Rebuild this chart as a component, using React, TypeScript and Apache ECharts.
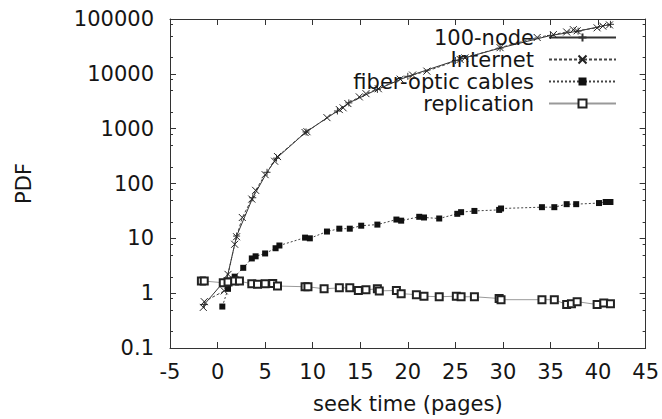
import React, { useEffect, useRef } from "react";
import * as echarts from "echarts";

const seriesNames = ["100-node", "Internet", "fiber-optic cables", "replication"];

const xTicks = [-5, 0, 5, 10, 15, 20, 25, 30, 35, 40, 45];
const yTickLabels = ["0.1", "1", "10", "100", "1000", "10000", "100000"];
const yDecades = [0.1, 1, 10, 100, 1000, 10000];
const yMinorFactors = [2, 5, 8];

const node100Data: [number, number][] = [
  [-1.4, 0.62], [1.0, 1.9], [2.0, 11], [3.7, 55], [5.2, 160], [6.2, 290], [9.3, 870],
  [12.6, 2100], [13.8, 2950], [16.8, 5200], [20.0, 9000], [25.0, 17500], [29.7, 29500],
  [35.0, 50000], [37.9, 60000], [41.3, 80000],
];

const internetData: [number, number][] = [
  [-1.5, 0.55], [-1.4, 0.7], [0.7, 1.1], [1.1, 2.2], [1.8, 7.8], [2.0, 10.7], [2.6, 24],
  [3.6, 52], [4.0, 75], [5.0, 145], [6.0, 255], [6.3, 310], [9.2, 850], [9.4, 880],
  [11.5, 1590], [12.8, 2230], [13.2, 2400], [13.7, 2870], [14.9, 3800], [15.6, 4350],
  [16.9, 5350], [19.2, 8000], [20.5, 9500], [22.0, 11200], [25.5, 18300], [26.0, 19500],
  [29.7, 30000], [33.6, 46000], [35.3, 52000], [36.7, 58000], [37.4, 64000], [37.8, 61000],
  [39.9, 69000], [40.5, 74000], [41.2, 78000],
];

const fiberData: [number, number][] = [
  [0.5, 0.57], [1.1, 1.2], [1.8, 2.0], [2.7, 2.9], [3.6, 4.3], [4.0, 4.7], [5.0, 5.3],
  [6.1, 6.6], [6.5, 7.4], [9.2, 10.3], [9.7, 10], [11.5, 13.3], [12.8, 15], [13.9, 15],
  [15.1, 17], [16.8, 17.8], [18.8, 22], [19.3, 21], [21.2, 24.7], [21.7, 24], [23.3, 23],
  [25.2, 28], [25.6, 30], [27.0, 31.6], [29.6, 33], [29.8, 35], [34.1, 37], [35.4, 37],
  [36.7, 42], [37.7, 42], [40.1, 44], [40.8, 46], [41.3, 46],
];

const replicationData: [number, number][] = [
  [-1.7, 1.66], [-1.4, 1.66], [0.6, 1.55], [1.1, 1.6], [1.8, 1.66], [2.3, 1.66], [3.6, 1.48],
  [4.2, 1.45], [5.0, 1.48], [5.8, 1.5], [6.3, 1.35], [9.2, 1.31], [9.5, 1.31], [11.2, 1.2],
  [12.8, 1.25], [13.9, 1.25], [14.8, 1.12], [15.6, 1.15], [16.8, 1.2], [17.0, 1.1],
  [18.8, 1.12], [19.3, 0.98], [20.9, 0.94], [21.7, 0.88], [23.3, 0.86], [25.1, 0.88],
  [25.6, 0.86], [27.0, 0.86], [29.6, 0.8], [29.8, 0.76], [34.1, 0.76], [35.4, 0.76],
  [36.7, 0.62], [37.2, 0.64], [37.8, 0.7], [39.9, 0.62], [40.6, 0.66], [41.3, 0.64],
];

const FONT = "DejaVu Sans";
const TEXT = "#151515";
const AXIS = "#333";

export default function App() {
  const ref = useRef<HTMLDivElement>(null);
  useEffect(() => {
    if (!ref.current) return;
    const chart = echarts.init(ref.current, null, { renderer: "svg" });
    const fmtY = (v: number) => {
      const i = Math.round(Math.log10(v)) + 1;
      return yTickLabels[i] ?? String(v);
    };
    const axisLine = { show: true, onZero: false, lineStyle: { color: AXIS, width: 1 } };
    const tick = { show: true, inside: true, length: 6, lineStyle: { color: AXIS } };
    const xBase = {
      type: "value" as const,
      min: xTicks[0],
      max: xTicks[xTicks.length - 1],
      interval: 5,
      axisLine,
      axisTick: tick,
      splitLine: { show: false },
    };
    const yBase = {
      type: "log" as const,
      logBase: 10,
      min: 0.1,
      max: 100000,
      axisLine,
      axisTick: tick,
      splitLine: { show: false },
    };
    const xMarker = "path://M0,0L10,10M10,0L0,10";
    const plusMarker = "path://M5,0L5,10M0,5L10,5";
    chart.setOption({
      animation: false,
      backgroundColor: "#fff",
      textStyle: { fontFamily: FONT },
      grid: { left: 170, right: 15, top: 19, bottom: 66 },
      legend: {
        orient: "vertical",
        align: "right",
        right: 45,
        top: 27,
        padding: 0,
        itemWidth: 67,
        itemHeight: 10,
        itemGap: 1,
        data: seriesNames,
        textStyle: { fontFamily: FONT, fontSize: 21, color: TEXT, lineHeight: 21, padding: [0, 10, 0, 0] },
      },
      xAxis: [
        {
          ...xBase,
          position: "bottom",
          name: "seek time (pages)",
          nameLocation: "middle",
          nameGap: 45,
          nameTextStyle: { fontFamily: FONT, fontSize: 21, color: TEXT },
          axisLabel: { fontFamily: FONT, fontSize: 21, color: TEXT, margin: 13 },
        },
        { ...xBase, position: "top", axisLabel: { show: false } },
      ],
      yAxis: [
        {
          ...yBase,
          position: "left",
          name: "PDF",
          nameLocation: "middle",
          nameGap: 136,
          nameTextStyle: { fontFamily: FONT, fontSize: 21, color: TEXT },
          axisLabel: { fontFamily: FONT, fontSize: 21, color: TEXT, margin: 16, formatter: fmtY },
        },
        { ...yBase, position: "right", axisLabel: { show: false } },
      ],
      series: [
        {
          name: seriesNames[0],
          type: "line",
          data: node100Data,
          symbol: plusMarker,
          symbolSize: 7,
          lineStyle: { color: "#333", width: 1, type: "solid" },
          itemStyle: { color: "transparent", borderColor: "#333", borderWidth: 1 },
          z: 3,
        },
        {
          name: seriesNames[1],
          type: "line",
          data: internetData,
          symbol: xMarker,
          symbolSize: 7,
          lineStyle: { color: "#444", width: 1, type: [3, 2] },
          itemStyle: { color: "transparent", borderColor: "#222", borderWidth: 1 },
          z: 4,
        },
        {
          name: seriesNames[2],
          type: "line",
          data: fiberData,
          symbol: "rect",
          symbolSize: 6,
          lineStyle: { color: "#444", width: 1, type: [2, 2] },
          itemStyle: { color: "#111" },
          z: 4,
        },
        {
          name: seriesNames[3],
          type: "line",
          data: replicationData,
          symbol: "emptyRect",
          symbolSize: 7,
          lineStyle: { color: "#999", width: 1, type: "solid" },
          itemStyle: { color: "#222", borderWidth: 1 },
          z: 4,
        },
      ],
    });

    // minor ticks on the log axes (2, 5, 8 of each decade), placed through the axis scale
    const leftX = chart.convertToPixel({ xAxisIndex: 0 }, xTicks[0]) as number;
    const rightX = chart.convertToPixel({ xAxisIndex: 0 }, xTicks[xTicks.length - 1]) as number;
    const minor: any[] = [];
    yDecades.forEach((d) => {
      yMinorFactors.forEach((f) => {
        const y = Math.round(chart.convertToPixel({ yAxisIndex: 0 }, d * f) as number) + 0.5;
        minor.push({
          type: "line",
          shape: { x1: leftX, y1: y, x2: leftX + 3, y2: y },
          style: { stroke: AXIS, lineWidth: 1 },
          silent: true,
        });
        minor.push({
          type: "line",
          shape: { x1: rightX - 3, y1: y, x2: rightX, y2: y },
          style: { stroke: AXIS, lineWidth: 1 },
          silent: true,
        });
      });
    });
    chart.setOption({ graphic: minor });
    return () => chart.dispose();
  }, []);
  return <div ref={ref} style={{ width: 662, height: 419, position: "absolute", left: 0, top: 0 }} />;
}
